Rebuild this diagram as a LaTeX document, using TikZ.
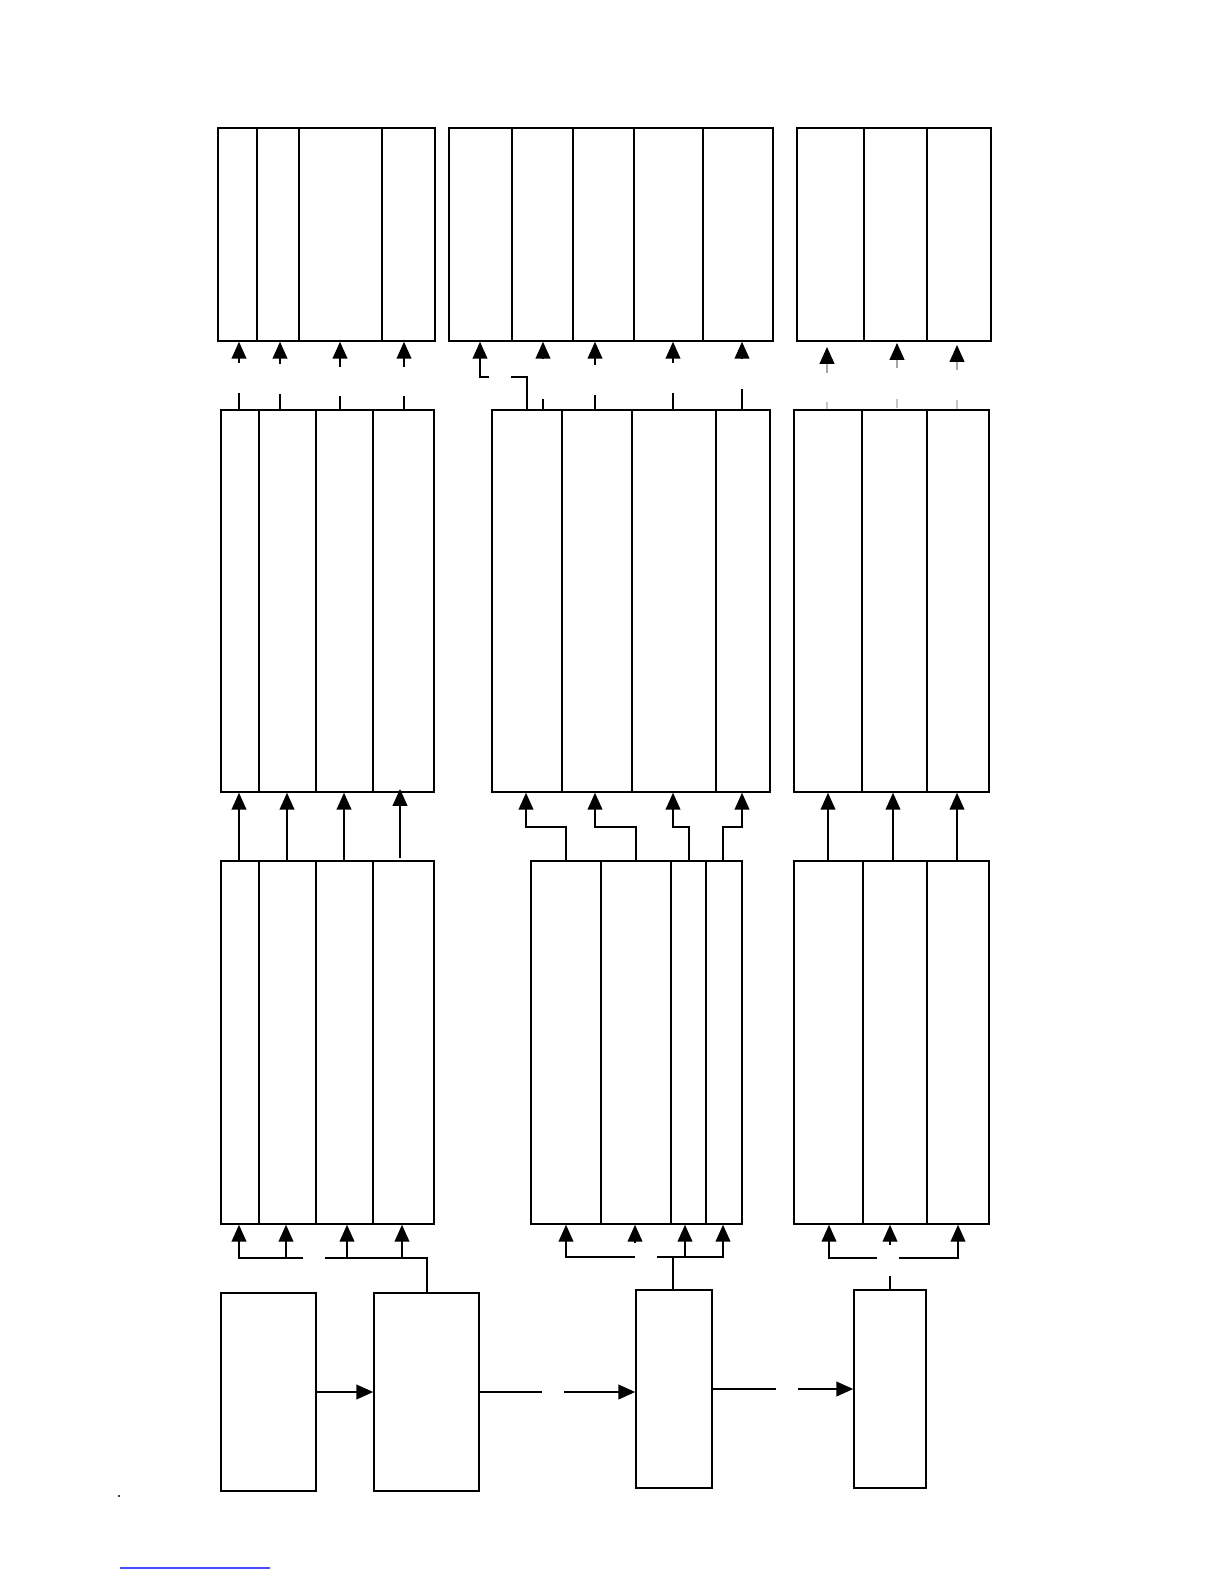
\documentclass[tikz,border=0pt]{standalone}
\usetikzlibrary{arrows.meta,fit}

\begin{document}
\begin{tikzpicture}[x=0.1mm, y=-0.1mm, line width=0.45pt,
    blk/.style={draw, inner sep=0pt, fit={#1}},
    arr/.style={-{Triangle[width=4.2pt,length=4.8pt,color=black]}},
    faint/.style={draw=black!35},
    fainter/.style={draw=black!22}]
    \useasboundingbox (0,0) rectangle (1224,1584);

    \node[blk={(218,128) (435,341)}] (a1) {};
    \node[blk={(449,128) (773,341)}] (a2) {};
    \node[blk={(797,128) (991,341)}] (a3) {};
    \node[blk={(221,410) (434,792)}] (b1) {};
    \node[blk={(492,410) (770,792)}] (b2) {};
    \node[blk={(794,410) (989,792)}] (b3) {};
    \node[blk={(221,861) (434,1224)}] (c1) {};
    \node[blk={(531,861) (742,1224)}] (c2) {};
    \node[blk={(794,861) (989,1224)}] (c3) {};
    \node[blk={(221,1293) (316,1491)}] (d1) {};
    \node[blk={(374,1293) (479,1491)}] (d2) {};
    \node[blk={(636,1290) (712,1488)}] (d3) {};
    \node[blk={(854,1290) (926,1488)}] (d4) {};

    \foreach \x in {257,299,382} \draw (\x,0 |- a1.north) -- (\x,0 |- a1.south);
    \foreach \x in {512,573,634,703} \draw (\x,0 |- a2.north) -- (\x,0 |- a2.south);
    \foreach \x in {864,927} \draw (\x,0 |- a3.north) -- (\x,0 |- a3.south);
    \foreach \x in {259,316,373} \draw (\x,0 |- b1.north) -- (\x,0 |- b1.south);
    \foreach \x in {562,632,716} \draw (\x,0 |- b2.north) -- (\x,0 |- b2.south);
    \foreach \x in {862,927} \draw (\x,0 |- b3.north) -- (\x,0 |- b3.south);
    \foreach \x in {259,316,373} \draw (\x,0 |- c1.north) -- (\x,0 |- c1.south);
    \foreach \x in {601,671,706} \draw (\x,0 |- c2.north) -- (\x,0 |- c2.south);
    \foreach \x in {863,927} \draw (\x,0 |- c3.north) -- (\x,0 |- c3.south);

    \draw[arr] (239,363) -- (239,0 |- a1.south);
    \draw[arr] (280,364) -- (280,0 |- a1.south);
    \draw[arr] (340,367) -- (340,0 |- a1.south);
    \draw[arr] (404,367) -- (404,0 |- a1.south);
    \draw (239,393) -- (239,0 |- b1.north);
    \draw (280,394) -- (280,0 |- b1.north);
    \draw (340,396) -- (340,0 |- b1.north);
    \draw (404,396) -- (404,0 |- b1.north);

    \draw (527,0 |- b2.north) -- (527,377) -- (511,377);
    \draw[arr] (489,377) -- (480,377) -- (480,0 |- a2.south);
    \draw[arr] (543,358) -- (543,0 |- a2.south);
    \draw[arr] (595,365) -- (595,0 |- a2.south);
    \draw[arr] (673,363) -- (673,0 |- a2.south);
    \draw[arr] (742,359) -- (742,0 |- a2.south);
    \draw (543,399) -- (543,0 |- b2.north);
    \draw (595,395) -- (595,0 |- b2.north);
    \draw (673,393) -- (673,0 |- b2.north);
    \draw (742,389) -- (742,0 |- b2.north);

    \draw[arr, faint] (827,373) -- (827,347);
    \draw[arr, faint] (897,368) -- (897,343);
    \draw[arr, faint] (957,370) -- (957,345);
    \draw[fainter] (827,402) -- (827,0 |- b3.north);
    \draw[fainter] (897,399) -- (897,408);
    \draw[fainter] (957,400) -- (957,0 |- b3.north);

    \draw[arr] (239,0 |- c1.north) -- (239,0 |- b1.south);
    \draw[arr] (287,0 |- c1.north) -- (287,0 |- b1.south);
    \draw[arr] (344,0 |- c1.north) -- (344,0 |- b1.south);
    \draw[arr] (400,858) -- (400,789);

    \draw[arr] (566,0 |- c2.north) -- (566,827) -- (526,827) -- (526,0 |- b2.south);
    \draw[arr] (636,0 |- c2.north) -- (636,827) -- (595,827) -- (595,0 |- b2.south);
    \draw[arr] (689,0 |- c2.north) -- (689,827) -- (673,827) -- (673,0 |- b2.south);
    \draw[arr] (723,0 |- c2.north) -- (723,827) -- (742,827) -- (742,0 |- b2.south);

    \draw[arr] (828,0 |- c3.north) -- (828,0 |- b3.south);
    \draw[arr] (893,0 |- c3.north) -- (893,0 |- b3.south);
    \draw[arr] (957,0 |- c3.north) -- (957,0 |- b3.south);

    \draw[arr] (303,1258) -- (239,1258) -- (239,0 |- c1.south);
    \draw[arr] (286,1258) -- (286,0 |- c1.south);
    \draw (325,1258) -- (427,1258) -- (427,0 |- d2.north);
    \draw[arr] (347,1258) -- (347,0 |- c1.south);
    \draw[arr] (402,1258) -- (402,0 |- c1.south);

    \draw[arr] (635,1257) -- (566,1257) -- (566,0 |- c2.south);
    \draw[arr] (635,1243) -- (635,0 |- c2.south);
    \draw[arr] (657,1257) -- (723,1257) -- (723,0 |- c2.south);
    \draw[arr] (685,1257) -- (685,0 |- c2.south);
    \draw (673,1257) -- (673,0 |- d3.north);

    \draw[arr] (877,1258) -- (829,1258) -- (829,0 |- c3.south);
    \draw[arr] (890,1245) -- (890,0 |- c3.south);
    \draw[arr] (899,1258) -- (958,1258) -- (958,0 |- c3.south);
    \draw (890,1276) -- (890,0 |- d4.north);

    \draw[arr] (d1.east |- 0,1392) -- (d2.west |- 0,1392);
    \draw (d2.east |- 0,1392) -- (542,1392);
    \draw[arr] (564,1392) -- (d3.west |- 0,1392);
    \draw (d3.east |- 0,1389) -- (776,1389);
    \draw[arr] (798,1389) -- (d4.west |- 0,1389);

    \fill (119,1496) circle (1.2);
    \draw[blue!70, line width=0.3pt] (120,1568) -- (270,1568);
\end{tikzpicture}
\end{document}
